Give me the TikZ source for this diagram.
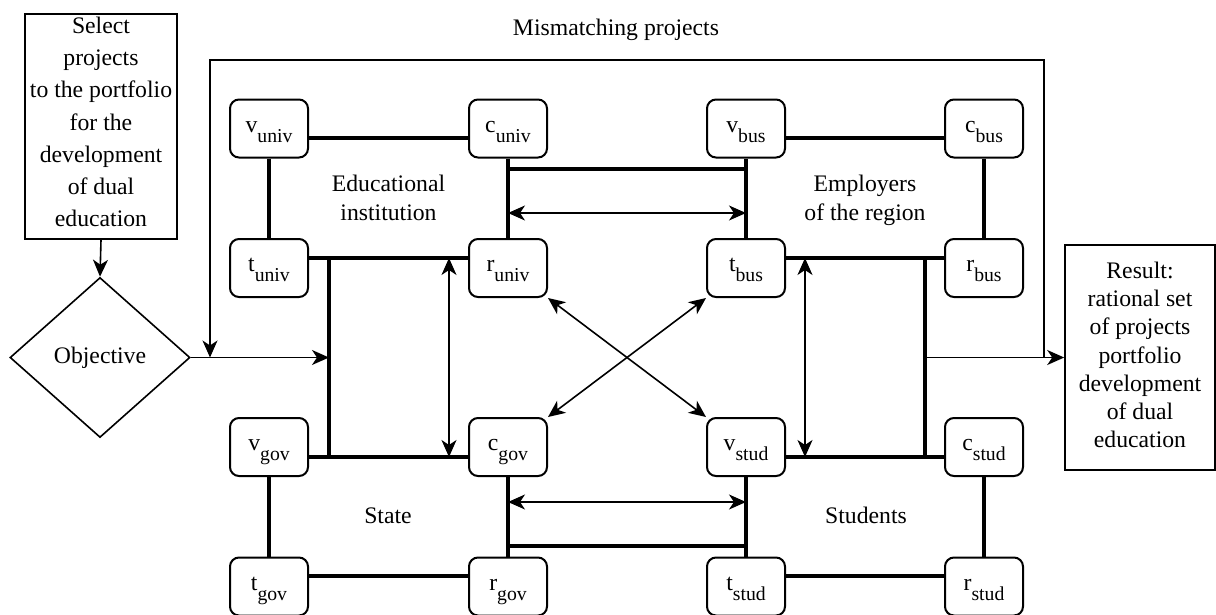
\documentclass[tikz,border=0pt]{standalone}
\usepackage{fontspec}
\setmainfont{Liberation Serif}
\usetikzlibrary{arrows.meta,shapes.geometric,calc}
\newcommand{\sbt}[1]{\raisebox{-10pt}{\fontsize{19.7}{20}\selectfont #1}}
\begin{document}
\begin{tikzpicture}[x=1pt,y=-1pt,
  every node/.style={font=\fontsize{23.7}{28.3}\selectfont},
  vbox/.style={draw, line width=2pt, rounded corners=9pt, minimum width=78pt, minimum height=58pt, inner sep=0pt, text height=16pt, text depth=8.6pt},
  bar/.style={line width=4pt},
  arr/.style={line width=1.6pt, -{Stealth[length=17pt,width=15pt,inset=5pt]}},
  dbl/.style={line width=1.6pt, {Stealth[length=17pt,width=15pt,inset=5pt]}-{Stealth[length=17pt,width=15pt,inset=5pt]}},
  frame/.style={draw, line width=1.6pt, inner sep=0pt}]
\useasboundingbox (0,0) rectangle (1216,614);
% actor nodes
\node[vbox] (vu) at (269,128.5) {v\sbt{univ}};
\node[vbox] (cu) at (508,128.5) {c\sbt{univ}};
\node[vbox] (vb) at (746,128.5) {v\sbt{bus}};
\node[vbox] (cb) at (984,128.5) {c\sbt{bus}};
\node[vbox] (tu) at (269,268) {t\sbt{univ}};
\node[vbox] (ru) at (508,268) {r\sbt{univ}};
\node[vbox] (tb) at (746,268) {t\sbt{bus}};
\node[vbox] (rb) at (984,268) {r\sbt{bus}};
\node[vbox] (vg) at (269,447) {v\sbt{gov}};
\node[vbox] (cg) at (508,447) {c\sbt{gov}};
\node[vbox] (vs) at (746,447) {v\sbt{stud}};
\node[vbox] (cs) at (984,447) {c\sbt{stud}};
\node[vbox] (tg) at (269,586.5) {t\sbt{gov}};
\node[vbox] (rg) at (508,586.5) {r\sbt{gov}};
\node[vbox] (ts) at (746,586.5) {t\sbt{stud}};
\node[vbox] (rs) at (984,586.5) {r\sbt{stud}};
% labels
\node[anchor=base] (mis) at (616,35) {Mismatching projects};
\node[align=center] (edu) at (388.5,197.9) {Educational\\institution};
\node[align=center] (emp) at (865,200.4) {Employers\\of the region};
\node[anchor=base] (sta) at (388,523) {State};
\node[anchor=base] (stu) at (866,523) {Students};
% side boxes
\node[frame, minimum width=152.5pt, minimum height=225.5pt] (sel) at (101,126.5) {};
\node[align=center, font=\fontsize{23.7}{32.3}\selectfont] (selt) at (101,121.9) {Select\\projects\\to the portfolio\\for the\\development\\of dual\\education};
\node[frame, diamond, minimum width=180pt, minimum height=160pt] (obj) at (100,357.5) {Objective};
\node[frame, minimum width=150pt, minimum height=225.5pt] (res) at (1140,357.5) {};
\node[align=center] (rest) at (1140,354.9) {Result:\\rational set\\of projects\\portfolio\\development\\of dual\\education};
% coordinates
\coordinate (lbT) at (329,258);
\coordinate (lbB) at (329,457);
\coordinate (lbM) at (329,357.5);
\coordinate (rbT) at (925,258);
\coordinate (rbB) at (925,457);
\coordinate (rbM) at (925,357.5);
\coordinate (dTL) at (508,213);
\coordinate (dTR) at (746,213);
\coordinate (dBL) at (508,502);
\coordinate (dBR) at (746,502);
\coordinate (dL1) at (449,258);
\coordinate (dL2) at (449,457);
\coordinate (dR1) at (805,258);
\coordinate (dR2) at (805,457);
\coordinate (fbR) at (1044,357.5);
\coordinate (fbTop) at (627,60);
\coordinate (fbL) at (210,357.5);
% thick connections
\draw[bar] ([yshift=-9.5pt]vu.east) -- ([yshift=-9.5pt]cu.west);
\draw[bar] ([yshift=-9.5pt]vb.east) -- ([yshift=-9.5pt]cb.west);
\draw[bar] (vu.south) -- (tu.north);
\draw[bar] (cb.south) -- (rb.north);
\draw[bar] (cu.south) -- (ru.north);
\draw[bar] (vb.south) -- (tb.north);
\draw[bar] ([yshift=-10pt]cu.south) -- ([yshift=-10pt]vb.south);
\draw[bar] ([yshift=10pt]tu.east) -- ([yshift=10pt]ru.west);
\draw[bar] ([yshift=10pt]tb.east) -- ([yshift=10pt]rb.west);
\draw[bar] ([yshift=-10pt]vg.east) -- ([yshift=-10pt]cg.west);
\draw[bar] ([yshift=-10pt]vs.east) -- ([yshift=-10pt]cs.west);
\draw[bar] (vg.south) -- (tg.north);
\draw[bar] (cs.south) -- (rs.north);
\draw[bar] (cg.south) -- (rg.north);
\draw[bar] (vs.south) -- (ts.north);
\draw[bar] ([yshift=10.5pt]rg.north) -- ([yshift=10.5pt]ts.north);
\draw[bar] ([yshift=10.5pt]tg.east) -- ([yshift=10.5pt]rg.west);
\draw[bar] ([yshift=10.5pt]ts.east) -- ([yshift=10.5pt]rs.west);
\draw[bar] (lbT) -- (lbB);
\draw[bar] (rbT) -- (rbB);
% double arrows
\draw[dbl] (dTL) -- (dTR);
\draw[dbl] (dBL) -- (dBR);
\draw[dbl] (dL1) -- (dL2);
\draw[dbl] (dR1) -- (dR2);
\draw[dbl] (ru.south east) -- (vs.north west);
\draw[dbl] (tb.south west) -- (cg.north east);
% flow
\draw[arr] (sel.south) -- (obj.north);
\draw[arr] (obj.east) -- (lbM);
\draw[arr] (rbM) -- (res.west);
\draw[arr] (fbR) |- (fbTop) -| (fbL);
\end{tikzpicture}
\end{document}
